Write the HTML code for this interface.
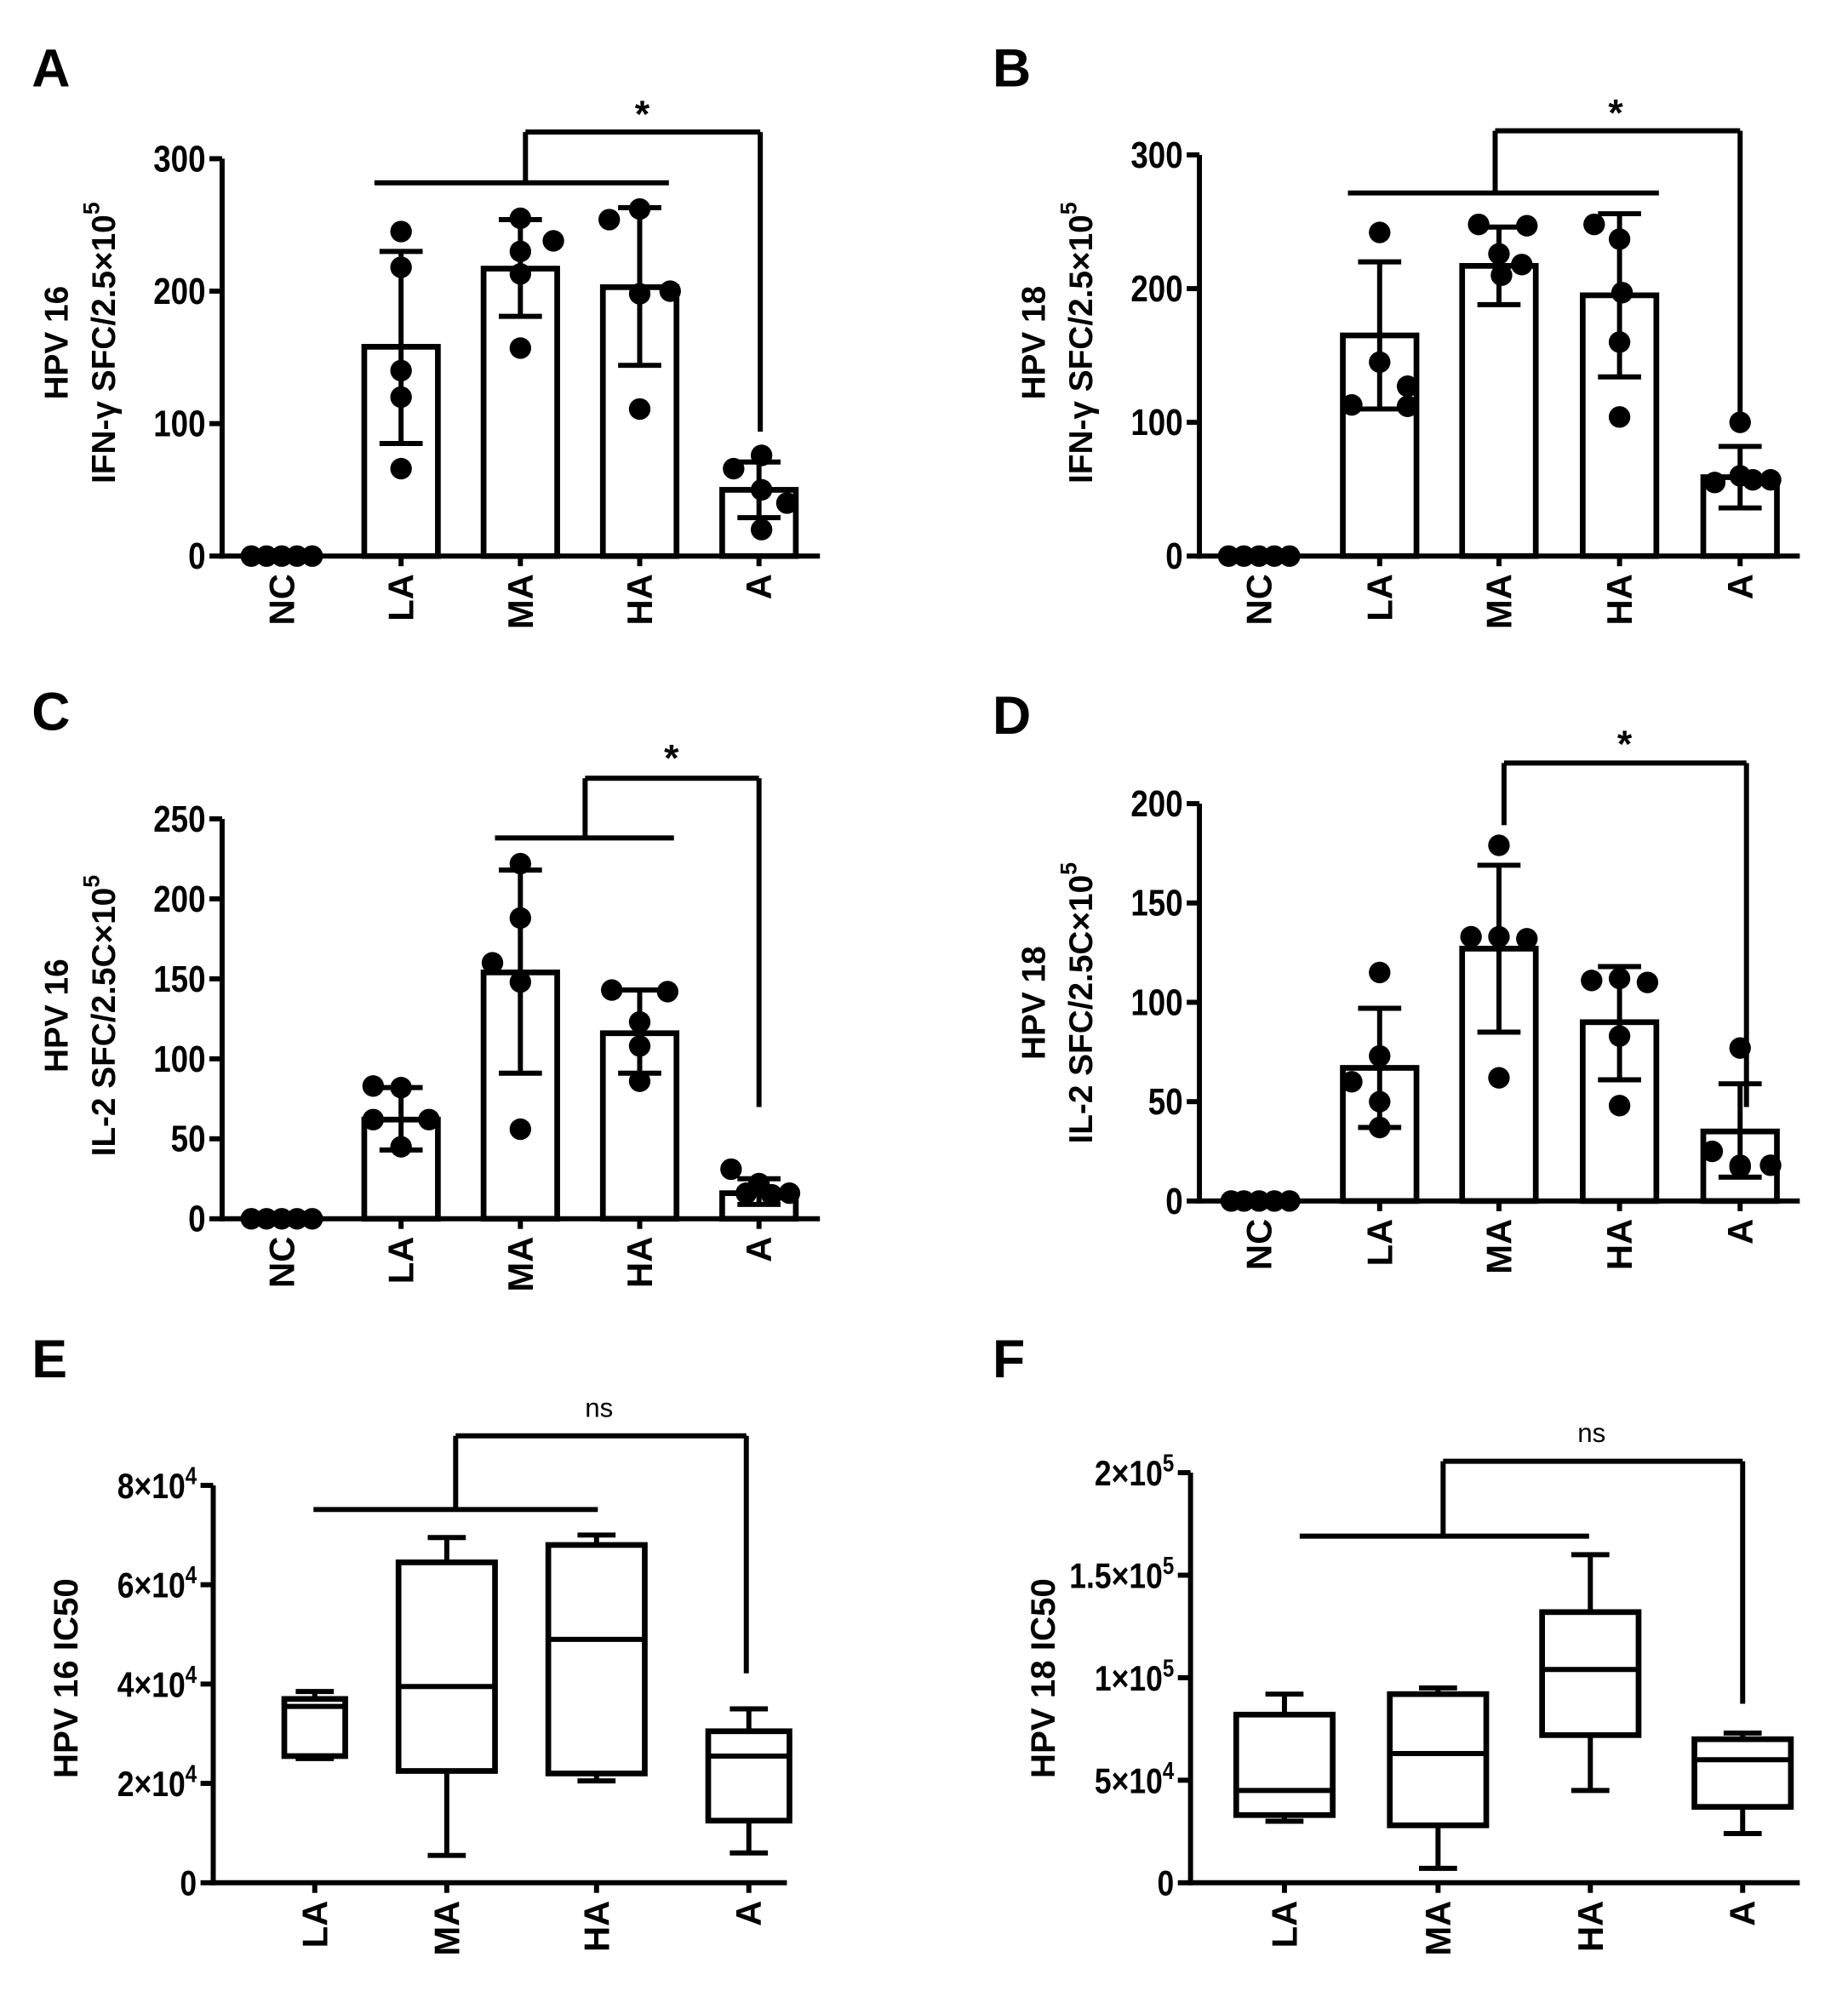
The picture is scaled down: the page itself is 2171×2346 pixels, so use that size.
<!DOCTYPE html>
<html><head><meta charset="utf-8"><style>html,body{margin:0;padding:0;background:#fff}svg{display:block}</style></head>
<body>
<svg id="s" xmlns="http://www.w3.org/2000/svg" width="2171" height="2346" viewBox="0 0 1456 1573" preserveAspectRatio="none" font-family="Liberation Sans, Arial, sans-serif"></svg>
<script>
var o='';
function L(x1,y1,x2,y2,w){o+='<line x1="'+x1+'" y1="'+y1+'" x2="'+x2+'" y2="'+y2+'" stroke="#000" stroke-width="'+(w||4)+'"/>';}
function T(x,y,s,sz,anc,extra){o+='<text x="'+x+'" y="'+y+'" font-size="'+sz+'" font-weight="bold" text-anchor="'+(anc||'middle')+'" '+(extra||'')+'>'+s+'</text>';}
function TC(x,y,s,sz){o+='<text transform="translate('+x+','+y+') scale(0.85,1)" font-size="'+sz+'" font-weight="bold" text-anchor="end">'+s+'</text>';}
function rot(x,y,s,sz,anc){o+='<text transform="translate('+x+','+y+') rotate(-90)" font-size="'+sz+'" font-weight="bold" text-anchor="'+anc+'" dominant-baseline="central">'+s+'</text>';}
function bracket(lx1,lx2,ly,bx,by,ax,ay){ if(lx1!==null){L(lx1,ly,lx2,ly); L(bx,ly,bx,by);} L(bx,by,ax,by); L(ax,by,ax,ay);}
function bars(p){
  var ax=p.ax,y0=p.y0,ytop=p.ytop,max=p.max,sc=(y0-ytop)/max;
  function Y(v){return y0-v*sc;}
  L(ax,ytop,ax,y0+2); L(ax-2,y0,p.xend,y0);
  p.ticks.forEach(function(t){L(ax-10,Y(t),ax,Y(t)); TC(ax-13,Y(t)+10,t,29);});
  var cats=['NC','LA','MA','HA','A'];
  p.cx.forEach(function(x,i){
    L(x,y0,x,y0+8);
    rot(x,y0+14,cats[i],28,'end');
    var b=p.b[i];
    if(b){o+='<rect x="'+(x-29)+'" y="'+Y(b[0])+'" width="58" height="'+(y0-Y(b[0]))+'" fill="none" stroke="#000" stroke-width="4.5"/>';
      L(x,Y(b[1]),x,Y(b[2])); L(x-17,Y(b[1]),x+17,Y(b[1])); L(x-17,Y(b[2]),x+17,Y(b[2]));}
    p.d[i].forEach(function(v,j){o+='<circle cx="'+(x+p.off[i][j])+'" cy="'+Y(v)+'" r="8.5" fill="#000"/>';});
  });
  o+='<text transform="translate('+p.t1x+','+p.ty+') rotate(-90)" font-size="26" font-weight="bold" text-anchor="middle" dominant-baseline="central">'+p.t1+'</text>';
  o+='<text transform="translate('+p.t2x+','+p.ty+') rotate(-90)" font-size="26" font-weight="bold" text-anchor="middle" dominant-baseline="central">'+p.t2+'</text>';
}
// Panel A
T(25,68,'A',42,'start');
bars({ax:175,y0:438,ytop:125,max:300,xend:646,ticks:[0,100,200,300],cx:[222,316,410,504,598],
 b:[null,[158,85,230],[217,181,254],[203,144,263],[50,29,71]],
 d:[[0,0,0,0,0],[245,218,140,120,66],[255,230,213,157,238],[254,262,198,111,200],[66,76,50,40,20]],
 off:[[-24,-12,0,12,24],[0,0,0,0,0],[0,0,0,0,26],[-24,0,0,0,24],[-20,2,2,22,2]],
 t1:'HPV 16',t2:'IFN-γ SFC/2.5×10<tspan dy="-10" font-size="18">5</tspan>',t1x:45,t2x:82,ty:270});
bracket(295,527,144,414,104,599,340); T(506,100,'*',30);
// Panel B
T(782,68,'B',42,'start');
bars({ax:945,y0:438,ytop:122,max:300,xend:1418,ticks:[0,100,200,300],cx:[992,1087,1181,1276,1371],
 b:[null,[165,110,220],[217,188,246],[195,134,256],[59,36,82]],
 d:[[0,0,0,0,0],[242,145,113,112,127],[248,247,226,210,218],[248,237,197,160,104],[100,60,55,57,57]],
 off:[[-24,-12,0,12,24],[0,0,-22,22,22],[-16,22,0,2,18],[-20,0,2,0,0],[0,0,-20,10,24]],
 t1:'HPV 18',t2:'IFN-γ SFC/2.5×10<tspan dy="-10" font-size="18">5</tspan>',t1x:815,t2x:852,ty:270});
bracket(1062,1307,152,1178,103,1371,334); T(1273,99,'*',30);
// Panel C
T(25,575,'C',42,'start');
bars({ax:175,y0:960,ytop:645,max:250,xend:646,ticks:[0,50,100,150,200,250],cx:[222,316,410,504,598],
 b:[null,[62,43,82],[154,91,218],[116,91,143],[16,9,25]],
 d:[[0,0,0,0,0],[83,82,62,62,45],[222,188,160,148,56],[143,142,123,108,86],[31,22,16,15,16]],
 off:[[-24,-12,0,12,24],[-22,0,-22,22,0],[0,0,-22,0,0],[-22,22,0,0,0],[-22,0,-10,10,24]],
 t1:'HPV 16',t2:'IL-2 SFC/2.5C×10<tspan dy="-10" font-size="18">5</tspan>',t1x:45,t2x:82,ty:800});
bracket(390,531,660,461,613,598,872); T(529,607,'*',30);
// Panel D
T(782,578,'D',42,'start');
bars({ax:945,y0:946,ytop:633,max:200,xend:1418,ticks:[0,50,100,150,200],cx:[992,1087,1181,1276,1371],
 b:[null,[67,37,97],[127,85,169],[90,61,118],[35,12,59]],
 d:[[0,0,0,0,0],[115,73,60,50,37],[179,133,133,132,62],[111,110,112,83,48],[77,25,18,17,18]],
 off:[[-22,-12,0,12,24],[0,0,-22,0,0],[0,-22,0,22,0],[-22,22,0,0,0],[0,-22,0,0,24]],
 t1:'HPV 18',t2:'IL-2 SFC/2.5C×10<tspan dy="-10" font-size="18">5</tspan>',t1x:815,t2x:852,ty:790});
L(1185,601,1185,650); L(1185,601,1376,601); L(1376,601,1376,872); T(1280,596,'*',30);
// Box panels
function box(p){
  var ax=p.ax,y0=p.y0,ytop=p.ytop,max=p.max,sc=(y0-ytop)/max;function Y(v){return y0-v*sc;}
  L(ax,ytop,ax,y0+2); L(ax-2,y0,p.xend,y0);
  p.ticks.forEach(function(t){L(ax-10,Y(t[0]),ax,Y(t[0])); TC(ax-13,Y(t[0])+10,t[1],28);});
  var cats=['LA','MA','HA','A'];
  p.cx.forEach(function(x,i){
    L(x,y0,x,y0+8); rot(x,y0+14,cats[i],28,'end');
    var b=p.b[i],hw=p.hw[i];
    L(x,Y(b[0]),x,Y(b[1])); L(x,Y(b[3]),x,Y(b[4]));
    L(x-15,Y(b[0]),x+15,Y(b[0])); L(x-15,Y(b[4]),x+15,Y(b[4]));
    o+='<rect x="'+(x-hw)+'" y="'+Y(b[3])+'" width="'+(2*hw)+'" height="'+(Y(b[1])-Y(b[3]))+'" fill="#fff" stroke="#000" stroke-width="4.5"/>';
    L(x-hw,Y(b[2]),x+hw,Y(b[2]));
  });
  o+='<text transform="translate('+p.tx+','+p.ty+') rotate(-90)" font-size="27" font-weight="bold" text-anchor="middle" dominant-baseline="central">'+p.t+'</text>';
}
var sup=function(a,b){return a+'×10<tspan dy="-11" font-size="19">'+b+'</tspan>';};
T(25,1085,'E',42,'start');
box({ax:168,y0:1483,ytop:1170,max:8,xend:620,ticks:[[0,'0'],[2,sup('2',4)],[4,sup('4',4)],[6,sup('6',4)],[8,sup('8',4)]],
 cx:[248,352,470,590],hw:[24,38,38,32],
 b:[[2.5,2.55,3.55,3.7,3.85],[0.55,2.25,3.95,6.45,6.95],[2.05,2.2,4.9,6.8,7.0],[0.6,1.25,2.55,3.05,3.5]],
 t:'HPV 16 IC50',tx:52,ty:1322});
bracket(247,471,1189,359,1131,588,1318);
o+='<text x="472" y="1116" font-size="21" text-anchor="middle">ns</text>';
T(782,1085,'F',42,'start');
box({ax:938,y0:1483,ytop:1160,max:2,xend:1418,ticks:[[0,'0'],[0.5,sup('5',4)],[1,sup('1',5)],[1.5,sup('1.5',5)],[2,sup('2',5)]],
 cx:[1012,1133,1253,1373],hw:[38,38,38,38],
 b:[[0.3,0.33,0.45,0.82,0.92],[0.07,0.28,0.63,0.92,0.95],[0.45,0.72,1.04,1.32,1.6],[0.24,0.37,0.6,0.7,0.73]],
 t:'HPV 18 IC50',tx:822,ty:1322});
bracket(1024,1252,1210,1137,1151,1373,1342);
o+='<text x="1254" y="1136" font-size="21" text-anchor="middle">ns</text>';
document.getElementById('s').innerHTML=o;
</script>
</body></html>
